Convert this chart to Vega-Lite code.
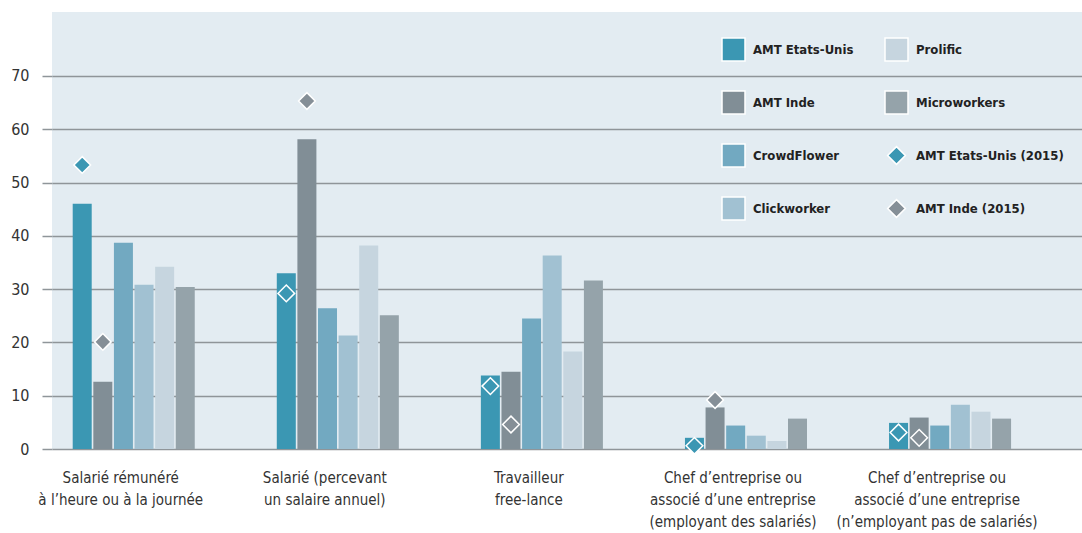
{
  "$schema": "https://vega.github.io/schema/vega-lite/v6.json",
  "autosize": {"type": "none"},
  "padding": {"left": 52, "top": 12, "right": 0, "bottom": 84},
  "width": 1030,
  "height": 437,
  "background": "white",
  "config": {
    "view": {"fill": "#e3ecf2", "stroke": null},
    "font": "'DejaVu Sans Condensed', 'Liberation Sans', sans-serif"
  },
  "datasets": {
    "bars": [
      {"category": "Salarié rémunéré\nà l’heure ou à la journée", "series": "AMT Etats-Unis", "value": 46.0},
      {"category": "Salarié rémunéré\nà l’heure ou à la journée", "series": "AMT Inde", "value": 12.6},
      {"category": "Salarié rémunéré\nà l’heure ou à la journée", "series": "CrowdFlower", "value": 38.7},
      {"category": "Salarié rémunéré\nà l’heure ou à la journée", "series": "Clickworker", "value": 30.8},
      {"category": "Salarié rémunéré\nà l’heure ou à la journée", "series": "Prolific", "value": 34.2},
      {"category": "Salarié rémunéré\nà l’heure ou à la journée", "series": "Microworkers", "value": 30.4},
      {"category": "Salarié (percevant\nun salaire annuel)", "series": "AMT Etats-Unis", "value": 33.0},
      {"category": "Salarié (percevant\nun salaire annuel)", "series": "AMT Inde", "value": 58.1},
      {"category": "Salarié (percevant\nun salaire annuel)", "series": "CrowdFlower", "value": 26.4},
      {"category": "Salarié (percevant\nun salaire annuel)", "series": "Clickworker", "value": 21.3},
      {"category": "Salarié (percevant\nun salaire annuel)", "series": "Prolific", "value": 38.2},
      {"category": "Salarié (percevant\nun salaire annuel)", "series": "Microworkers", "value": 25.1},
      {"category": "Travailleur\nfree-lance", "series": "AMT Etats-Unis", "value": 13.8},
      {"category": "Travailleur\nfree-lance", "series": "AMT Inde", "value": 14.5},
      {"category": "Travailleur\nfree-lance", "series": "CrowdFlower", "value": 24.5},
      {"category": "Travailleur\nfree-lance", "series": "Clickworker", "value": 36.3},
      {"category": "Travailleur\nfree-lance", "series": "Prolific", "value": 18.3},
      {"category": "Travailleur\nfree-lance", "series": "Microworkers", "value": 31.6},
      {"category": "Chef d’entreprise ou\nassocié d’une entreprise\n(employant des salariés)", "series": "AMT Etats-Unis", "value": 2.1},
      {"category": "Chef d’entreprise ou\nassocié d’une entreprise\n(employant des salariés)", "series": "AMT Inde", "value": 7.8},
      {"category": "Chef d’entreprise ou\nassocié d’une entreprise\n(employant des salariés)", "series": "CrowdFlower", "value": 4.4},
      {"category": "Chef d’entreprise ou\nassocié d’une entreprise\n(employant des salariés)", "series": "Clickworker", "value": 2.5},
      {"category": "Chef d’entreprise ou\nassocié d’une entreprise\n(employant des salariés)", "series": "Prolific", "value": 1.5},
      {"category": "Chef d’entreprise ou\nassocié d’une entreprise\n(employant des salariés)", "series": "Microworkers", "value": 5.7},
      {"category": "Chef d’entreprise ou\nassocié d’une entreprise\n(n’employant pas de salariés)", "series": "AMT Etats-Unis", "value": 4.9},
      {"category": "Chef d’entreprise ou\nassocié d’une entreprise\n(n’employant pas de salariés)", "series": "AMT Inde", "value": 5.9},
      {"category": "Chef d’entreprise ou\nassocié d’une entreprise\n(n’employant pas de salariés)", "series": "CrowdFlower", "value": 4.4},
      {"category": "Chef d’entreprise ou\nassocié d’une entreprise\n(n’employant pas de salariés)", "series": "Clickworker", "value": 8.3},
      {"category": "Chef d’entreprise ou\nassocié d’une entreprise\n(n’employant pas de salariés)", "series": "Prolific", "value": 7.0},
      {"category": "Chef d’entreprise ou\nassocié d’une entreprise\n(n’employant pas de salariés)", "series": "Microworkers", "value": 5.7}
    ],
    "points": [
      {"category": "Salarié rémunéré\nà l’heure ou à la journée", "series": "AMT Etats-Unis (2015)", "pos": "AMT Etats-Unis", "value": 53.3},
      {"category": "Salarié rémunéré\nà l’heure ou à la journée", "series": "AMT Inde (2015)", "pos": "AMT Inde", "value": 20.1},
      {"category": "Salarié (percevant\nun salaire annuel)", "series": "AMT Etats-Unis (2015)", "pos": "AMT Etats-Unis", "value": 29.2},
      {"category": "Salarié (percevant\nun salaire annuel)", "series": "AMT Inde (2015)", "pos": "AMT Inde", "value": 65.3},
      {"category": "Travailleur\nfree-lance", "series": "AMT Etats-Unis (2015)", "pos": "AMT Etats-Unis", "value": 11.8},
      {"category": "Travailleur\nfree-lance", "series": "AMT Inde (2015)", "pos": "AMT Inde", "value": 4.6},
      {"category": "Chef d’entreprise ou\nassocié d’une entreprise\n(employant des salariés)", "series": "AMT Etats-Unis (2015)", "pos": "AMT Etats-Unis", "value": 0.6},
      {"category": "Chef d’entreprise ou\nassocié d’une entreprise\n(employant des salariés)", "series": "AMT Inde (2015)", "pos": "AMT Inde", "value": 9.2},
      {"category": "Chef d’entreprise ou\nassocié d’une entreprise\n(n’employant pas de salariés)", "series": "AMT Etats-Unis (2015)", "pos": "AMT Etats-Unis", "value": 3.1},
      {"category": "Chef d’entreprise ou\nassocié d’une entreprise\n(n’employant pas de salariés)", "series": "AMT Inde (2015)", "pos": "AMT Inde", "value": 2.1}
    ]
  },
  "encoding": {
    "x": {
      "field": "category",
      "type": "nominal",
      "sort": null,
      "title": null,
      "scale": {"paddingInner": 0.402, "paddingOuter": 0.2245, "align": 0.226},
      "axis": {
        "labelAngle": 0,
        "domain": false,
        "ticks": false,
        "labelFontSize": 15,
        "labelColor": "#333333",
        "labelLineHeight": 22,
        "labelPadding": 21,
        "labelOffset": -13,
        "labelLimit": 0,
        "labelExpr": "split(datum.label, '\\n')"
      }
    },
    "y": {
      "field": "value",
      "type": "quantitative",
      "title": null,
      "scale": {"domain": [0, 82], "nice": false},
      "axis": {
        "values": [0, 10, 20, 30, 40, 50, 60, 70],
        "domain": false,
        "grid": true,
        "gridColor": "#8f9599",
        "gridWidth": 1.5,
        "tickColor": "#8f9599",
        "tickWidth": 1.5,
        "tickSize": 10,
        "labelPadding": 13,
        "labelFontSize": 16,
        "labelColor": "#333333"
      }
    },
    "color": {
      "field": "series",
      "type": "nominal",
      "scale": {
        "domain": ["AMT Etats-Unis", "AMT Inde", "CrowdFlower", "Clickworker", "Prolific", "Microworkers", "AMT Etats-Unis (2015)", "AMT Inde (2015)"],
        "range": ["#3b97b3", "#818e96", "#72a9c1", "#a1c1d2", "#c6d5df", "#95a3aa", "#3b97b3", "#858f97"]
      },
      "legend": {
        "title": null,
        "orient": "none",
        "legendX": 669,
        "legendY": 25,
        "columns": 2,
        "columnPadding": 28,
        "rowPadding": 24,
        "padding": 0,
        "symbolSize": 529,
        "labelFontWeight": "bold",
        "labelFontSize": 13,
        "labelColor": "#222222",
        "labelOffset": 7
      }
    }
  },
  "layer": [
    {
      "data": {"name": "bars"},
      "mark": {"type": "bar"},
      "encoding": {
        "xOffset": {
          "field": "series",
          "type": "nominal",
          "scale": {
            "domain": ["AMT Etats-Unis", "AMT Inde", "CrowdFlower", "Clickworker", "Prolific", "Microworkers"],
            "paddingInner": 0.078,
            "paddingOuter": 0
          }
        }
      }
    },
    {
      "data": {"name": "points"},
      "mark": {"type": "point", "filled": true, "size": 470, "stroke": "white", "strokeWidth": 1.5, "opacity": 1},
      "encoding": {
        "xOffset": {"field": "pos", "type": "nominal"},
        "shape": {
          "field": "series",
          "type": "nominal",
          "scale": {
            "domain": ["AMT Etats-Unis", "AMT Inde", "CrowdFlower", "Clickworker", "Prolific", "Microworkers", "AMT Etats-Unis (2015)", "AMT Inde (2015)"],
            "range": ["square", "square", "square", "square", "square", "square", "M0,-0.77L0.77,0L0,0.77L-0.77,0Z", "M0,-0.77L0.77,0L0,0.77L-0.77,0Z"]
          }
        }
      }
    }
  ]
}
